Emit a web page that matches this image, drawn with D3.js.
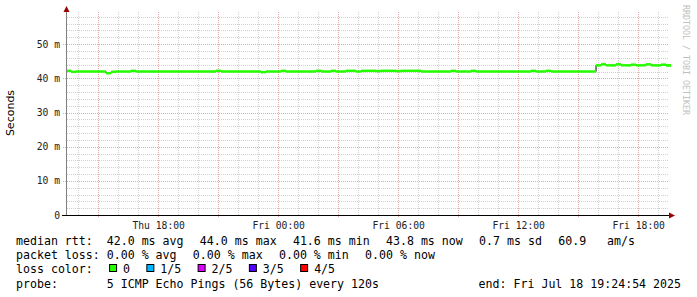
<!DOCTYPE html>
<html>
<head>
<meta charset="utf-8">
<script src="https://cdn.jsdelivr.net/npm/d3@7"></script>
<style>
  body { margin: 0; background: #fff; }
  svg { display: block; }
  text { white-space: pre; }
</style>
</head>
<body>
<svg id="chart" width="697" height="297"></svg>
<script>
// Smokeping median RTT (ms), one sample per 15 min starting Thu 13:25
const sampleStart = new Date(2025, 6, 17, 13, 25, 0);
const sampleMinutes = 15;
const medianRtt = [
  42.2, 41.9, 42.0, 42.0, 42.0, 42.0, 42.0, 42.0, 41.5, 41.9, 42.0, 42.0, 42.0, 42.2, 42.0, 42.0,
  42.0, 42.0, 42.0, 42.0, 42.0, 42.0, 42.0, 42.0, 42.0, 42.0, 42.0, 42.0, 42.0, 42.0, 42.2, 42.0,
  42.0, 42.0, 42.0, 42.0, 42.0, 42.0, 42.0, 41.8, 42.0, 42.0, 42.0, 42.2, 42.0, 42.0, 42.0, 42.0,
  42.0, 42.0, 42.2, 42.0, 42.0, 42.2, 42.0, 42.0, 42.2, 42.2, 42.0, 42.2, 42.2, 42.2, 42.1, 42.2,
  42.2, 42.2, 42.1, 42.2, 42.2, 42.2, 42.2, 42.0, 42.0, 42.0, 42.0, 42.0, 42.0, 42.2, 42.0, 42.0,
  42.0, 42.2, 42.0, 42.0, 42.0, 42.0, 42.0, 42.0, 42.0, 42.0, 42.0, 42.0, 42.0, 42.2, 42.0, 42.0,
  42.2, 42.0, 42.0, 42.0, 42.0, 42.0, 42.0, 42.0, 42.0, 42.0, 43.8, 44.1, 43.8, 43.8, 44.1, 43.8,
  43.8, 44.0, 43.8, 43.8, 44.1, 43.8, 43.8, 44.0, 43.8, 43.8
];

const timeStart = new Date(2025, 6, 17, 13, 24, 54);
const timeEnd = new Date(2025, 6, 18, 19, 24, 54);
const yTicks = [0, 10, 20, 30, 40, 50];
const yTickLabels = ["0", "10 m", "20 m", "30 m", "40 m", "50 m"];

const lossNames = ["0", "1/5", "2/5", "3/5", "4/5"];
const lossColors = ["#26ff00", "#00b8ff", "#dd00ff", "#5500ff", "#ff0000"];

// rrdtool legend elements, one gprint each
const rttLegend = ["median rtt:  42.0 ms avg", "44.0 ms max", "41.6 ms min", "43.8 ms now", "0.7 ms sd", "60.9   am/s"];
const lossLegend = ["packet loss: 0.00 % avg", "0.00 % max", "0.00 % min", "0.00 % now"];
const probeText = "probe:       5 ICMP Echo Pings (56 Bytes) every 120s";
const endText = "end: Fri Jul 18 19:24:54 2025";

const mono = "'DejaVu Sans Mono', monospace";
const legendGap = 16.3;
const svg = d3.select('#chart');

const x = d3.scaleTime().domain([timeStart, timeEnd]).range([66, 666]);
const y = d3.scaleLinear().domain([0, 60]).range([215, 10]);

const data = medianRtt.map((v, i) => ({
  t: new Date(sampleStart.getTime() + i * sampleMinutes * 60000),
  v: v
}));

// grid
const grid = svg.append('g').attr('shape-rendering', 'crispEdges');
const hourTicks = x.ticks(d3.timeHour.every(1));
grid.selectAll('.vminor').data(hourTicks.filter(d => d.getHours() % 3 !== 0))
  .enter().append('line')
  .attr('x1', d => Math.round(x(d)) + 0.5).attr('x2', d => Math.round(x(d)) + 0.5)
  .attr('y1', 12).attr('y2', 215)
  .attr('stroke', '#d0d0d0').attr('stroke-dasharray', '1,1');
grid.selectAll('.hminor').data(d3.range(2, 60, 2).filter(v => v % 10 !== 0))
  .enter().append('line')
  .attr('x1', 67).attr('x2', 669)
  .attr('y1', d => Math.round(y(d)) + 0.5).attr('y2', d => Math.round(y(d)) + 0.5)
  .attr('stroke', '#d0d0d0').attr('stroke-dasharray', '1,1');
grid.selectAll('.vmajor').data(hourTicks.filter(d => d.getHours() % 3 === 0))
  .enter().append('line')
  .attr('x1', d => Math.round(x(d)) + 0.5).attr('x2', d => Math.round(x(d)) + 0.5)
  .attr('y1', 12).attr('y2', 218)
  .attr('stroke', '#e8a8a8').attr('stroke-dasharray', '1,1');
grid.selectAll('.hmajor').data(yTicks.filter(v => v > 0))
  .enter().append('line')
  .attr('x1', 63).attr('x2', 669)
  .attr('y1', d => Math.round(y(d)) + 0.5).attr('y2', d => Math.round(y(d)) + 0.5)
  .attr('stroke', '#e8a8a8').attr('stroke-dasharray', '1,1');

// median line: black step underneath, green loss-coloured segments on top
const step = d3.line().x(d => x(d.t)).y(d => y(d.v)).curve(d3.curveStepAfter);
const lineData = data.concat([{ t: timeEnd, v: data[data.length - 1].v }]);
svg.append('path').datum(lineData)
  .attr('d', step).attr('fill', 'none').attr('stroke', '#000').attr('stroke-width', 1);
svg.append('g').selectAll('line').data(data).enter().append('line')
  .attr('x1', d => x(d.t))
  .attr('x2', (d, i) => x(i + 1 < data.length ? data[i + 1].t : timeEnd))
  .attr('y1', d => y(d.v)).attr('y2', d => y(d.v))
  .attr('stroke', lossColors[0]).attr('stroke-width', 2.5);

// axes
const axes = svg.append('g').attr('shape-rendering', 'crispEdges');
axes.append('line').attr('x1', 66.5).attr('x2', 66.5).attr('y1', 10).attr('y2', 216)
  .attr('stroke', '#808080');
axes.append('line').attr('x1', 62).attr('x2', 670).attr('y1', 215.5).attr('y2', 215.5)
  .attr('stroke', '#000');
svg.append('path').attr('d', 'M63.5,12 L66.5,6 L69.5,12 Z').attr('fill', '#990000');
svg.append('path').attr('d', 'M669,212.5 L675,215.5 L669,218.5 Z').attr('fill', '#990000');

// y tick labels
svg.append('g').selectAll('text').data(yTicks).enter().append('text')
  .attr('x', 60).attr('y', d => y(d) + 3.5)
  .attr('text-anchor', 'end')
  .style('font-family', mono).style('font-size', '9.7px').attr('fill', '#222')
  .text((d, i) => yTickLabels[i]);

// x tick labels
const fmt = d3.timeFormat('%a %H:%M');
svg.append('g').selectAll('text').data(hourTicks.filter(d => d.getHours() % 6 === 0))
  .enter().append('text')
  .attr('x', d => x(d) + 1).attr('y', 229)
  .attr('text-anchor', 'middle')
  .style('font-family', mono).style('font-size', '9.7px').attr('fill', '#222')
  .text(d => fmt(d));

// y axis title
svg.append('text')
  .attr('transform', 'translate(14,113) rotate(-90)')
  .attr('text-anchor', 'middle')
  .style('font-family', "'DejaVu Sans', sans-serif").style('font-size', '11px').attr('fill', '#000')
  .text('Seconds');

// watermark
svg.append('text')
  .attr('transform', 'translate(683,5) rotate(90)')
  .style('font-family', mono).style('font-size', '8.3px').attr('fill', '#c0c0c0')
  .text('RRDTOOL / TOBI OETIKER');

// stats block
const lineY = [245, 259, 273, 287.5];
const stats = svg.append('g').style('font-family', mono).style('font-size', '11.6px').attr('fill', '#000');

function legendRow(items, yPos) {
  let cx = 16;
  items.forEach(s => {
    const t = stats.append('text').attr('x', cx).attr('y', yPos).text(s);
    cx += t.node().getComputedTextLength() + legendGap;
  });
}
legendRow(rttLegend, lineY[0]);
legendRow(lossLegend, lineY[1]);

const lc = stats.append('text').attr('x', 16).attr('y', lineY[2]).text('loss color:');
let lx = 16 + lc.node().getComputedTextLength() + legendGap;
lossNames.forEach((name, i) => {
  stats.append('rect').attr('x', lx + 0.5).attr('y', 264.5).attr('width', 7).attr('height', 7)
    .attr('fill', lossColors[i]).attr('stroke', '#000').attr('stroke-width', 1);
  const t = stats.append('text').attr('x', lx + 14).attr('y', lineY[2]).text(name);
  lx += 14 + t.node().getComputedTextLength() + legendGap;
});
stats.append('text').attr('x', 16).attr('y', lineY[3]).text(probeText);
stats.append('text').attr('x', 681).attr('y', lineY[3]).attr('text-anchor', 'end').text(endText);
</script>
</body>
</html>
